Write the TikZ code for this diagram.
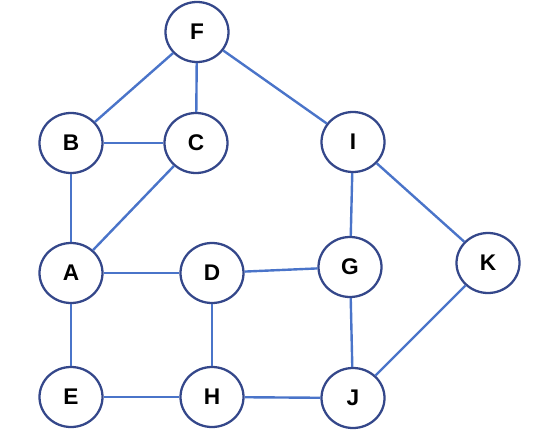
\documentclass[tikz,border=0pt]{standalone}
\usepackage{fontspec}
\setmainfont{Liberation Sans}
\usetikzlibrary{shapes.geometric}
\definecolor{ringc}{HTML}{34478A}
\definecolor{edgec}{HTML}{4A74C9}
\begin{document}
\begin{tikzpicture}[x=0.75pt,y=-0.75pt,
  vtx/.style={ellipse, draw=ringc, line width=1.7pt, fill=white, minimum width=63*0.75pt, minimum height=60*0.75pt, inner sep=0pt, font=\fontsize{17}{18}\selectfont\bfseries},
  lnk/.style={draw=edgec, line width=1.8pt}]
\useasboundingbox (0,0) rectangle (539,439);
\node[vtx] (F) at (197,32) {F};
\node[vtx] (B) at (71,143) {B};
\node[vtx] (C) at (196,143) {C};
\node[vtx] (I) at (353,142) {I};
\node[vtx] (A) at (71,273) {A};
\node[vtx] (D) at (212,273) {D};
\node[vtx] (G) at (350,267) {G};
\node[vtx] (K) at (488,263) {K};
\node[vtx] (E) at (71,397) {E};
\node[vtx] (H) at (212,397) {H};
\node[vtx] (J) at (353,398) {J};
\foreach \a/\b in {F/B,F/C,F/I,B/C,B/A,C/A,A/D,A/E,D/G,D/H,I/G,I/K,G/J,K/J,E/H,H/J}
  \draw[lnk] (\a) -- (\b);
\end{tikzpicture}
\end{document}
